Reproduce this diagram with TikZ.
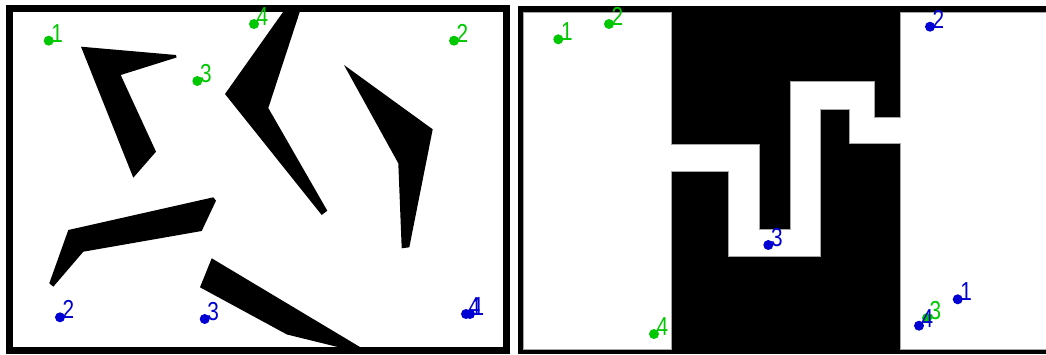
\documentclass[tikz,border=0pt]{standalone}
\usepackage{fontspec}
\newfontfamily\labfont[FakeStretch=0.8]{Liberation Sans}
\definecolor{mkgreen}{RGB}{0,200,0}
\definecolor{mkblue}{RGB}{0,0,210}
\tikzset{
  lab/.style={inner sep=0pt, font=\labfont\fontsize{26}{26}\selectfont},
  wall/.style={fill=black},
  free/.style={fill=white, draw=gray!70, line width=0.8pt}
}
\newcommand\mk[5]{%
  \fill[#1] (#2,#3) circle[radius=5];
  \node[lab, text=#1, anchor=base west] (#5) at (#2+2.5,#3+1.5) {#4};}
\begin{document}
\begin{tikzpicture}[x=1pt,y=-1pt]
\useasboundingbox (0,0) rectangle (1046,354);
\fill[white] (0,0) rectangle (1046,354);
% ---------- left panel ----------
\fill[black] (6,5) rectangle (510,354);
\fill[white] (13,12) rectangle (503,347);
\begin{scope}
\clip (13,12) rectangle (503,347);
\fill[wall] (81,46.7) -- (176,55) -- (176.5,57.5) -- (120.7,75) -- (156,151.7) -- (133.3,177.7) -- cycle;
\fill[wall] (288,5) -- (302,5) -- (268.3,108) -- (327.3,210.7) -- (321.7,215) -- (225,94) -- cycle;
\fill[wall] (344,65) -- (432.7,129.3) -- (409.3,247.3) -- (401.7,248.3) -- (398.3,163.3) -- cycle;
\fill[wall] (68.3,230) -- (213.3,197.3) -- (216,200.7) -- (201.7,231) -- (83.3,251.7) -- (53.3,286.7) -- (49.3,283.3) -- cycle;
\fill[wall] (211.7,258.3) -- (365,350) -- (350,350) -- (287,334.5) -- (200,287.3) -- cycle;
\end{scope}
\mk{mkgreen}{48.7}{40.7}{1}{gl1}
\mk{mkgreen}{454}{40.7}{2}{gl2}
\mk{mkgreen}{197.3}{81}{3}{gl3}
\mk{mkgreen}{254}{24}{4}{gl4}
\mk{mkblue}{60}{317.3}{2}{bl2}
\mk{mkblue}{204.7}{319}{3}{bl3}
\mk{mkblue}{466}{314}{4}{bl4}
\mk{mkblue}{470}{314}{1}{bl1}
% ---------- right panel ----------
\fill[black] (518,6) rectangle (1050,354);
\fill[free] (523,12) rectangle (671,349);
\fill[free] (900,12) rectangle (1050,349);
\fill[free] (671,144.3) -- (759,144.3) -- (759,229.3) -- (790.7,229.3) -- (790.7,81.7)
  -- (874.3,81.7) -- (874.3,117.3) -- (900,117.3) -- (900,143.3) -- (849.3,143.3)
  -- (849.3,109.3) -- (820,109.3) -- (820,256) -- (728.3,256) -- (728.3,171.7) -- (671,171.7) -- cycle;
\fill[white] (670.2,145) rectangle (672,171);
\fill[white] (899.2,118) rectangle (900.8,142.6);
\mk{mkgreen}{558.3}{39.3}{1}{gr1}
\mk{mkgreen}{609}{24}{2}{gr2}
\mk{mkgreen}{927}{318}{3}{gr3}
\mk{mkgreen}{654}{334}{4}{gr4}
\mk{mkblue}{957.7}{299.3}{1}{br1}
\mk{mkblue}{930}{26.7}{2}{br2}
\mk{mkblue}{768.3}{245}{3}{br3}
\mk{mkblue}{919}{325.7}{4}{br4}
\end{tikzpicture}
\end{document}
